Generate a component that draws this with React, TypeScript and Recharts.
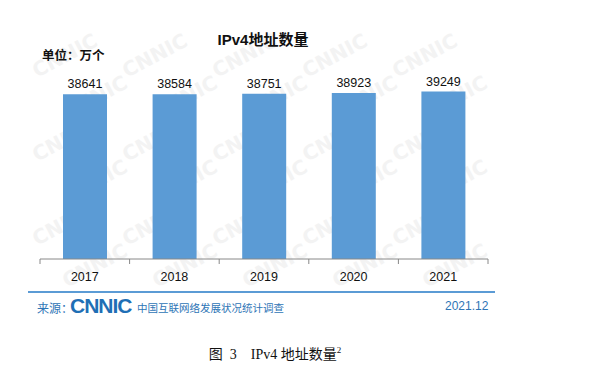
import { BarChart, Bar, XAxis, YAxis, LabelList } from 'recharts'

// ── Data ────────────────────────────────────────────────────────────────────

const years = ['2017', '2018', '2019', '2020', '2021']
const ipv4Counts = [38641, 38584, 38751, 38923, 39249]

const data = years.map((year, i) => ({ year, value: ipv4Counts[i] }))

const BLUE = '#5B9BD5'
const FOOT_BLUE = '#2E75B6'
const SANS = '"Liberation Sans", Arial, "Noto Sans CJK SC", sans-serif'

// ticks sit between categories, not under them
// eslint-disable-next-line @typescript-eslint/no-explicit-any
const BoundaryTick = (props: any) => {
  const { x, y, payload, index, visibleTicksCount } = props
  const half = payload?.offset ?? 44.8
  const axisY = y - 8
  return (
    <g>
      <line x1={x - half} x2={x - half} y1={axisY} y2={axisY + 5} stroke="#888" />
      {index === visibleTicksCount - 1 && (
        <line x1={x + half} x2={x + half} y1={axisY} y2={axisY + 5} stroke="#888" />
      )}
      <text x={x} y={y + 14} textAnchor="middle" fontSize={12.5} fill="#111" fontFamily={SANS}>
        {payload.value}
      </text>
    </g>
  )
}

// faint CNNIC watermark behind the panel
function Watermark() {
  const marks = []
  for (let r = 0; r < 6; r++) {
    for (let c = 0; c < 5; c++) {
      const x = 10 + c * 90 + (r % 2) * 30
      const y = 70 + r * 42
      marks.push(
        <text
          key={`${r}-${c}`}
          x={x}
          y={y}
          transform={`rotate(-28 ${x} ${y})`}
          fontSize={20}
          fontWeight={900}
          fill="#f3f3f3"
          fontFamily='"DejaVu Sans", sans-serif'
        >
          CNNIC
        </text>,
      )
    }
  }
  return (
    <svg width={468} height={307} style={{ position: 'absolute', left: 27, top: 8 }}>
      {marks}
    </svg>
  )
}

export default function App() {
  return (
    <div style={{ position: 'absolute', left: 0, top: 0, width: 615, height: 371, background: '#fff', fontFamily: SANS }}>
      <Watermark />

      <div style={{ position: 'absolute', left: 0, top: 0 }}>
        <BarChart
          width={615}
          height={300}
          data={data}
          margin={{ top: 67, right: 127, bottom: 11, left: 40 }}
          barSize={44}
        >
          <XAxis
            dataKey="year"
            height={30}
            axisLine={{ stroke: '#888' }}
            tickLine={false}
            tick={<BoundaryTick />}
            interval={0}
          />
          <YAxis hide domain={[0, 45000]} />
          <Bar dataKey="value" fill={BLUE} isAnimationActive={false}>
            <LabelList dataKey="value" position="top" offset={6} fontSize={12.5} fill="#111" fontFamily={SANS} />
          </Bar>
        </BarChart>
      </div>

      <div style={{ position: 'absolute', left: 173, width: 180, top: 28, textAlign: 'center', fontSize: 15, fontWeight: 700, color: '#111' }}>
        IPv4地址数量
      </div>
      <div style={{ position: 'absolute', left: 42, top: 45, fontSize: 12.5, fontWeight: 700, color: '#111' }}>
        单位：万个
      </div>

      <div style={{ position: 'absolute', left: 28, top: 291, width: 467, height: 2, background: BLUE }} />
      <div style={{ position: 'absolute', left: 37, top: 299, fontSize: 12, color: FOOT_BLUE }}>来源：</div>
      <div style={{ position: 'absolute', left: 70, top: 294, fontSize: 21, fontWeight: 700, color: '#1F6FB5', fontFamily: SANS, letterSpacing: -1 }}>
        CNNIC
      </div>
      <div style={{ position: 'absolute', left: 137, top: 300, fontSize: 10.5, color: FOOT_BLUE, fontFamily: '"Noto Sans CJK SC", sans-serif' }}>
        中国互联网络发展状况统计调查
      </div>
      <div style={{ position: 'absolute', left: 445, top: 299, fontSize: 12, color: FOOT_BLUE }}>2021.12</div>

      <div style={{ position: 'absolute', left: 0, width: 550, top: 343, textAlign: 'center', fontSize: 14, color: '#111', fontFamily: '"Liberation Serif", "Noto Sans CJK SC", serif' }}>
        图&nbsp;&nbsp;3&nbsp;&nbsp;&nbsp;&nbsp;IPv4 地址数量<sup style={{ fontSize: 9 }}>2</sup>
      </div>
    </div>
  )
}
